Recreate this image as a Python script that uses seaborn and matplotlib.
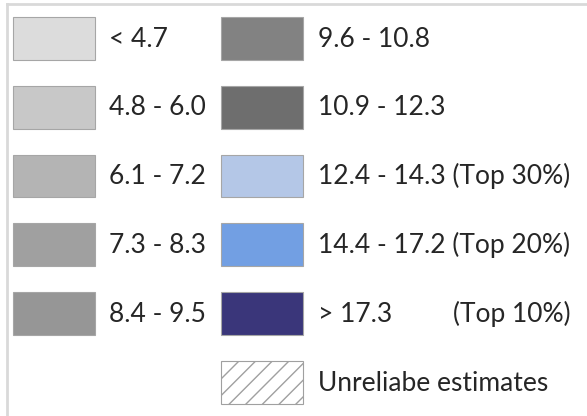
import matplotlib.pyplot as plt
import seaborn as sns
from matplotlib.patches import Patch

# legend classes (column 1, then column 2)
labels_left = ["< 4.7", "4.8 - 6.0", "6.1 - 7.2", "7.3 - 8.3", "8.4 - 9.5"]
colors_left = ["#dcdcdc", "#c8c8c8", "#b4b4b4", "#a0a0a0", "#969696"]

labels_right = ["9.6 - 10.8", "10.9 - 12.3", "12.4 - 14.3 (Top 30%)",
                "14.4 - 17.2 (Top 20%)", "> 17.3         (Top 10%)"]
colors_right = ["#828282", "#6e6e6e", "#b4c7e7", "#729fe3", "#3a367a"]

hatch_label = "Unreliabe estimates"

sns.set_theme(style="white")
plt.rcParams['font.family'] = ['Lato', 'DejaVu Sans']
plt.rcParams['hatch.linewidth'] = 1.0

fig = plt.figure(figsize=(5.87, 4.16), dpi=100)

# outer frame: only left and top edges visible
ax = fig.add_axes([0.012, -0.2, 1.2, 1.19])
ax.set_xticks([])
ax.set_yticks([])
sns.despine(ax=ax, right=True, bottom=True, top=False, left=False)
for s in ["left", "top"]:
    ax.spines[s].set_color("#d9d9d9")
    ax.spines[s].set_linewidth(2)

handles = []
labels = []
for lab, col in zip(labels_left, colors_left):
    handles.append(Patch(facecolor=col, edgecolor="#a6a6a6", linewidth=0.8))
    labels.append(lab)
handles.append(Patch(facecolor="none", edgecolor="none"))
labels.append("")
for lab, col in zip(labels_right, colors_right):
    handles.append(Patch(facecolor=col, edgecolor="#a6a6a6", linewidth=0.8))
    labels.append(lab)
handles.append(Patch(facecolor="white", edgecolor="#a0a0a0", hatch="//", linewidth=0.8))
labels.append(hatch_label)

fs = 19
fig.legend(handles, labels, ncol=2, loc="upper left",
           bbox_to_anchor=(-0.005, 0.997), frameon=False, fontsize=fs,
           handlelength=3.1, handleheight=2.11, handletextpad=0.56,
           labelspacing=0.99, columnspacing=0.56, borderaxespad=0.0,
           borderpad=0.6)

fig.savefig("out.png", dpi=100)
